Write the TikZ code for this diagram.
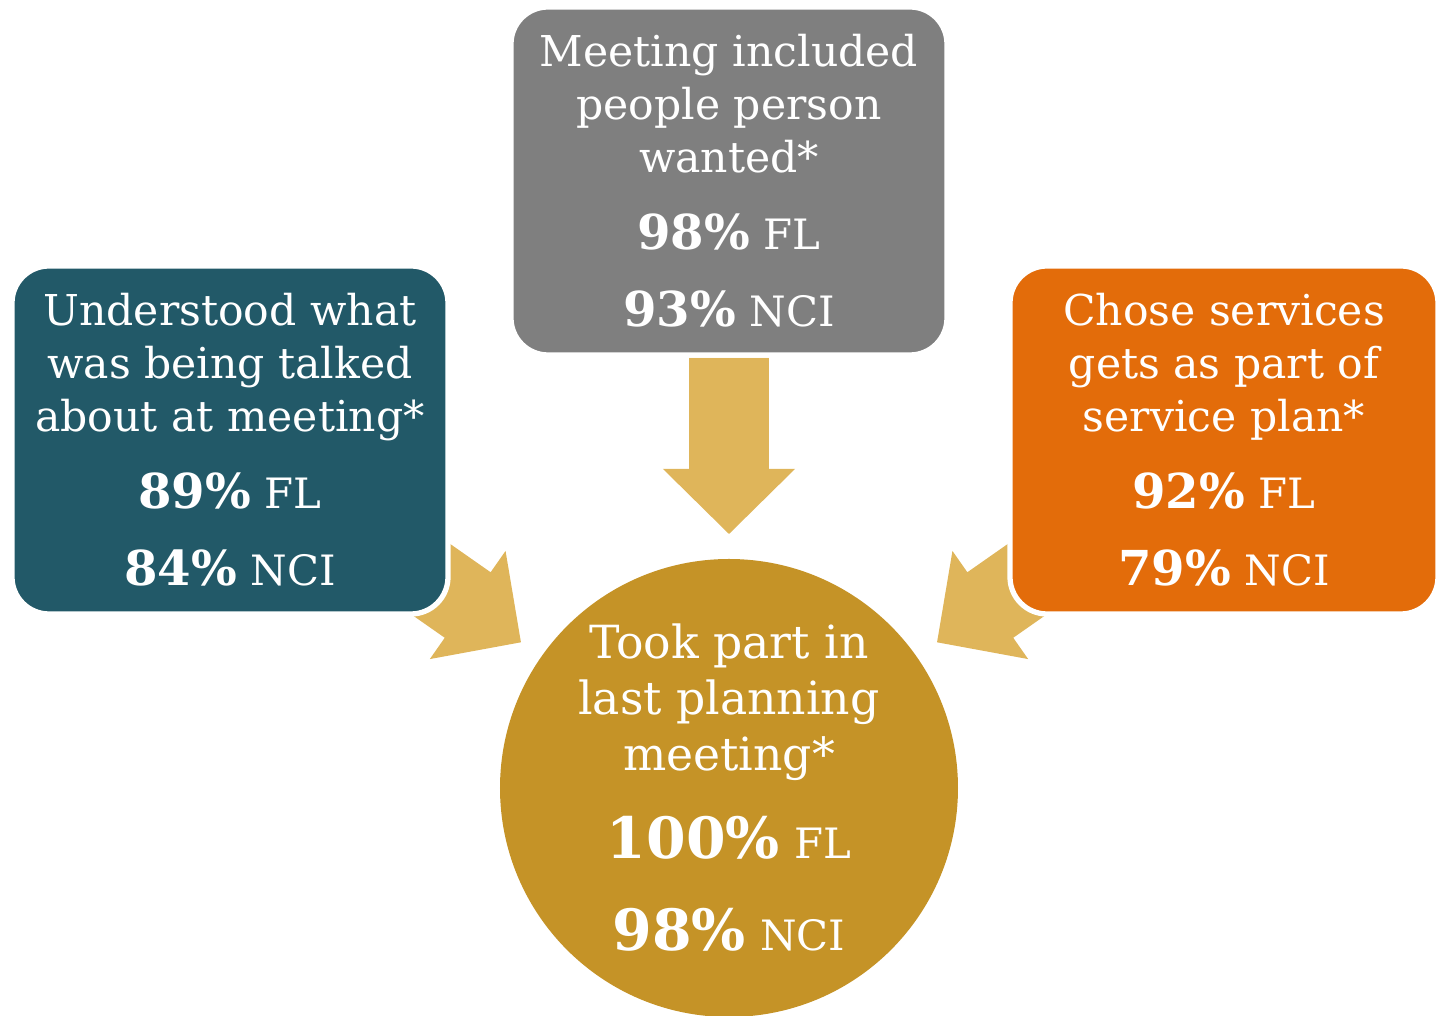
\documentclass[tikz,border=0pt]{standalone}
\usepackage{fontspec}
\setmainfont{DejaVu Serif}
\usetikzlibrary{calc}

\definecolor{tealbox}{RGB}{34,89,104}
\definecolor{greybox}{RGB}{127,127,127}
\definecolor{orangebox}{RGB}{227,108,10}
\definecolor{hubgold}{RGB}{197,147,39}
\definecolor{arrowgold}{RGB}{223,181,90}

\newcommand{\pct}[1]{{\fontsize{13.7}{15.1}\selectfont\bfseries #1}}
\newcommand{\grp}[1]{{\fontsize{11.9}{15.1}\selectfont #1}}
\newcommand{\bigpct}[1]{{\fontsize{16.2}{15.9}\selectfont\bfseries #1}}

\begin{document}
\begin{tikzpicture}[
    box/.style={rounded corners=0.37cm, draw=white, line width=1.5pt, text=white,
                minimum width=4.36cm, minimum height=3.48cm, align=center,
                font=\fontsize{12.1}{15.1}\selectfont},
    hub/.style={circle, fill=hubgold, text=white, minimum size=4.58cm, inner sep=0pt,
                align=center, font=\fontsize{13}{15.9}\selectfont},
    blockarrow/.style={fill=arrowgold}
  ]
  \useasboundingbox (0,0) rectangle (14.39,10.16);

  \node[hub] (hub) at (7.29,2.28) {Took part in\\last planning\\meeting*\\[9pt]
    \bigpct{100\%} \grp{FL}\\[10.5pt]\bigpct{98\%} \grp{NCI}};

  % block arrows into the hub
  \fill[blockarrow, shift={($(hub.center)+(90:2.54cm)$)}, rotate=-90]
    (0,0) -- (-0.65,0.66) -- (-0.65,0.40) -- (-1.76,0.40) -- (-1.76,-0.40) -- (-0.65,-0.40) -- (-0.65,-0.66) -- cycle;
  \fill[blockarrow, shift={($(hub.center)+(145:2.54cm)$)}, rotate=-35]
    (0,0) -- (-0.65,0.66) -- (-0.65,0.40) -- (-1.76,0.40) -- (-1.76,-0.40) -- (-0.65,-0.40) -- (-0.65,-0.66) -- cycle;
  \fill[blockarrow, shift={($(hub.center)+(35:2.54cm)$)}, rotate=-145]
    (0,0) -- (-0.65,0.66) -- (-0.65,0.40) -- (-1.76,0.40) -- (-1.76,-0.40) -- (-0.65,-0.40) -- (-0.65,-0.66) -- cycle;

  \node[box, fill=tealbox] (understood) at (2.30,5.76) {Understood what\\was being talked\\about at meeting*\\[6.8pt]
    \pct{89\%} \grp{FL}\\[6.8pt]\pct{84\%} \grp{NCI}};
  \node[box, fill=greybox] (included) at (7.29,8.35) {Meeting included\\people person\\wanted*\\[6.8pt]
    \pct{98\%} \grp{FL}\\[6.8pt]\pct{93\%} \grp{NCI}};
  \node[box, fill=orangebox, minimum width=4.28cm] (chose) at (12.24,5.76) {Chose services\\gets as part of\\service plan*\\[6.8pt]
    \pct{92\%} \grp{FL}\\[6.8pt]\pct{79\%} \grp{NCI}};
\end{tikzpicture}
\end{document}
